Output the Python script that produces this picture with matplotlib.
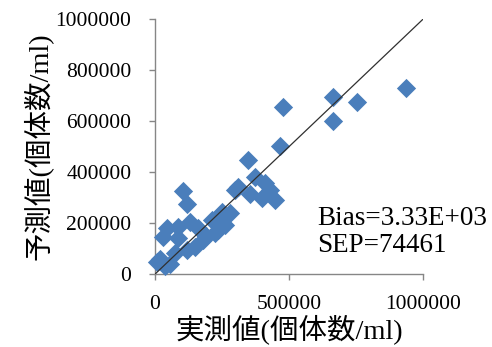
import matplotlib.pyplot as plt
import numpy as np

# 実測値 / 予測値 (個体数/ml)
measured = [937000, 753000, 665000, 663000, 477000, 466000, 348000, 105000, 118000,
            311000, 373000, 410000, 354000, 429000, 448000, 398000, 249000, 280000,
            261000, 235000, 224000, 211000, 180000, 162000, 131000, 87000, 86000,
            44000, 31000, 118000, 75000, 149000, 6000, 37000, 20000, 55000, 190000, 300000]
predicted = [728000, 676000, 693000, 601000, 654000, 503000, 447000, 325000, 275000,
             342000, 382000, 356000, 316000, 330000, 290000, 300000, 244000, 238000,
             192000, 172000, 160000, 212000, 133000, 179000, 205000, 186000, 141000,
             179000, 146000, 94000, 82000, 107000, 48000, 31000, 60000, 40000, 150000, 330000]
line_x = [0, 1000000]
xticks = [0, 500000, 1000000]
yticks = [0, 200000, 400000, 600000, 800000, 1000000]
stats_text = "Bias=3.33E+03\nSEP=74461"

fonts = ['Liberation Serif', 'Noto Sans CJK JP']
plt.rcParams['font.family'] = fonts

fig = plt.figure(figsize=(4.92, 3.47), dpi=100)
ax = fig.add_axes([0.315, 0.21, 0.545, 0.735])

ax.scatter(measured, predicted, marker='D', s=9.8 ** 2, color='#4a7ebb',
           linewidths=0, clip_on=False, zorder=3)
ax.plot(line_x, line_x, color='#303030', lw=0.9, zorder=4)

ax.set_xlim(0, 1000000)
ax.set_ylim(0, 1000000)
ax.set_xticks(xticks)
ax.set_yticks(yticks)
ax.set_xticklabels([str(v) for v in xticks])
ax.set_yticklabels([str(v) for v in yticks])

for side in ['top', 'right']:
    ax.spines[side].set_visible(False)
for side in ['left', 'bottom']:
    ax.spines[side].set_color('#868686')
    ax.spines[side].set_linewidth(1.0)
ax.tick_params(axis='both', direction='out', length=4, width=1.0, color='#868686',
               labelsize=15.5)
ax.tick_params(axis='y', pad=13)
ax.tick_params(axis='x', pad=11)

ax.set_xlabel("実測値(個体数/ml)", fontsize=20.5, labelpad=0)
ax.set_ylabel("予測値(個体数/ml)", fontsize=20.5, labelpad=2)

ax.text(0.605, 0.165, stats_text, transform=ax.transAxes, fontsize=19.5,
        va='center', ha='left', linespacing=1.15)

fig.savefig("out.png", dpi=100)
